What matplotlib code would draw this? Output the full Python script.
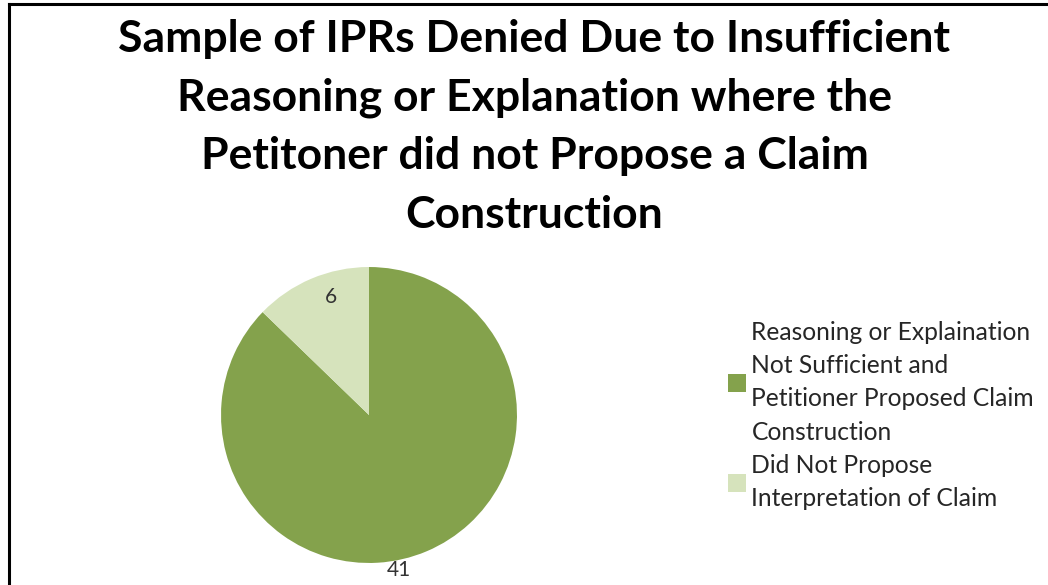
import numpy as np
import matplotlib
matplotlib.use('Agg')
import matplotlib.pyplot as plt
from matplotlib.lines import Line2D
from matplotlib.patches import Patch

plt.rcParams['font.family'] = ['Lato', 'DejaVu Sans']

title = ('Sample of IPRs Denied Due to Insufficient\n'
         'Reasoning or Explanation where the\n'
         'Petitoner did not Propose a Claim\n'
         'Construction')
categories = ['Reasoning or Explaination\nNot Sufficient and\nPetitioner Proposed Claim\nConstruction',
              'Did Not Propose\nInterpretation of Claim']
counts = [41, 6]
colors = ['#84A24C', '#D6E3BC']

fig = plt.figure(figsize=(10.48, 5.85), dpi=100)
fig.patch.set_facecolor('white')

# frame lines (top and left only, chart is cropped)
fig.add_artist(Line2D([0.0085, 1.0], [0.9925, 0.9925], color='black', lw=2.2))
fig.add_artist(Line2D([0.0085, 0.0085], [0.0, 0.9925], color='black', lw=2.2))

fig.text(0.51, 0.783, title, ha='center', va='center', fontsize=32,
         fontweight='bold', linespacing=1.56, color='black')

ax = fig.add_axes([0.2109, 0.0376, 0.2824, 0.506])
wedges, _ = ax.pie(counts, colors=colors, startangle=90, counterclock=False,
                   radius=1.0, wedgeprops=dict(linewidth=0))
ax.set_xlim(-1, 1)
ax.set_ylim(-1, 1)
ax.set_aspect('equal')
ax.axis('off')

# data labels, Excel-style placement
label_r = [1.07, 0.84]
label_shift = [-12, -5]
for w, n, r, s in zip(wedges, counts, label_r, label_shift):
    ang = np.deg2rad((w.theta1 + w.theta2) / 2 + s)
    ax.text(r * np.cos(ang), r * np.sin(ang), str(n), ha='center', va='center',
            fontsize=15, color='#333333', clip_on=False)

handles = [Patch(facecolor=c, edgecolor='none') for c in colors]
leg = fig.legend(handles, categories, loc='center left', bbox_to_anchor=(0.6947, 0.29),
                 frameon=False, fontsize=17.7, handlelength=0.75, handleheight=0.75,
                 handletextpad=0.2, labelspacing=0.4, borderpad=0, borderaxespad=0)
for t in leg.get_texts():
    t.set_linespacing(1.55)
    t.set_color('#262626')

fig.savefig('out.png', dpi=100)
